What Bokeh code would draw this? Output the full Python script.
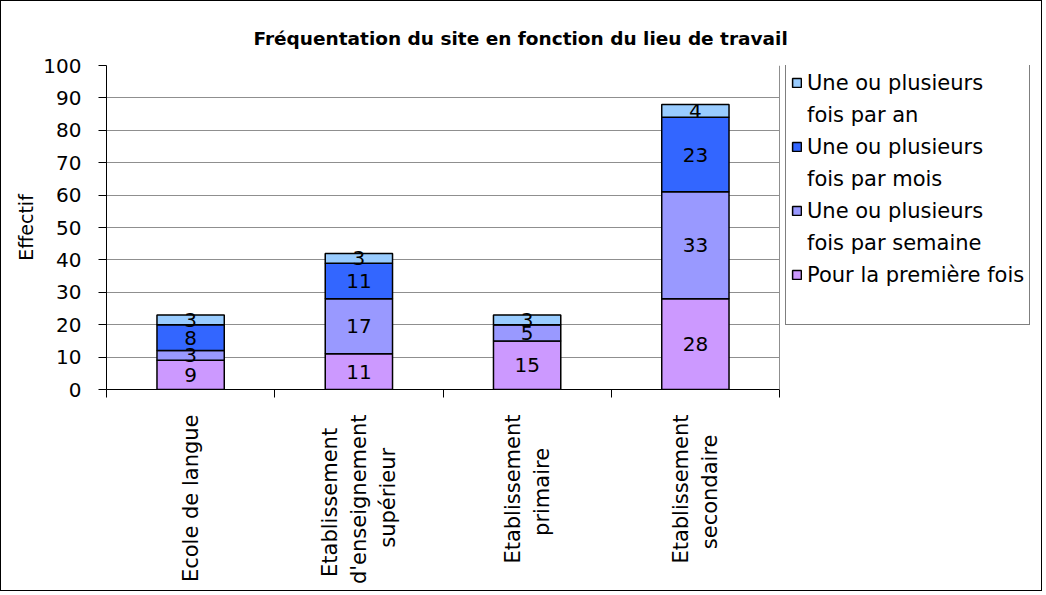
import math
from bokeh.plotting import figure
from bokeh.models import Range1d, FixedTicker, Legend, LegendItem, ColumnDataSource, Span
from bokeh.embed import file_html
from bokeh.resources import INLINE
from bokeh.core.properties import value

# ---- data ----
categories = ["Ecole de langue",
              "Etablissement\nd'enseignement\nsupérieur",
              "Etablissement\nprimaire",
              "Etablissement\nsecondaire"]
premiere = [9, 11, 15, 28]
semaine = [3, 17, 5, 33]
mois = [8, 11, 0, 23]
an = [3, 3, 3, 4]
series_keys = ["premiere", "semaine", "mois", "an"]
series_labels = [["Pour la première fois"],
                 ["Une ou plusieurs", "fois par semaine"],
                 ["Une ou plusieurs", "fois par mois"],
                 ["Une ou plusieurs", "fois par an"]]
colors = ["#CC99FF", "#9999FF", "#3366FF", "#99CCFF"]
y_ticks = list(range(0, 101, 10))
title = "Fréquentation du site en fonction du lieu de travail"
y_label = "Effectif"

FONT = "DejaVu Sans"
NBSP = "\u00a0"
# trailing non-breaking spaces centre the shorter lines of the rotated labels
pad = {"Etablissement\nd'enseignement\nsupérieur": [2, 0, 5],
       "Etablissement\nprimaire": [0, 5],
       "Etablissement\nsecondaire": [0, 3]}


def centred(label):
    lines = label.split("\n")
    n = pad.get(label, [0] * len(lines))
    return "\n".join(l + NBSP * k for l, k in zip(lines, n))


n_cat = len(categories)
xs = [i + 0.5 for i in range(n_cat)]
data = dict(x=xs, premiere=premiere, semaine=semaine, mois=mois, an=an)
source = ColumnDataSource(data)

# layout geometry (pixels, canvas coordinates; canvas sits 1px inside a border)
W, H = 1042, 591
LEFT, TOP, BOTTOM = 105, 64, 388
AREA_RIGHT = 778          # right edge of the bar area
FRAME_RIGHT = W           # frame extends under the legend
x_end = n_cat * (FRAME_RIGHT - LEFT) / (AREA_RIGHT - LEFT)

p = figure(width=W, height=H, output_backend="svg", toolbar_location=None,
           x_range=Range1d(0, x_end), y_range=Range1d(0, 100),
           min_border_left=LEFT, min_border_right=W - FRAME_RIGHT, min_border_top=TOP,
           min_border_bottom=H - BOTTOM)
p.styles = {"border": "1px solid #000000"}

p.title.text = title
p.title.text_font = FONT
p.title.text_font_size = "18.5px"
p.title.text_font_style = "bold"
p.title.text_color = "black"
p.title.align = "left"
p.title.offset = 147
p.title.standoff = 33

renderers = p.vbar_stack(series_keys, x="x", width=0.4, source=source,
                         fill_color=colors, line_color="black", line_width=1.5)

# data labels
for i, key in enumerate(series_keys):
    vals = data[key]
    lx, ly, lt = [], [], []
    for j, v in enumerate(vals):
        if v == 0:
            continue
        bottom = sum(data[k][j] for k in series_keys[:i])
        lx.append(xs[j])
        ly.append(bottom + v / 2)
        lt.append(str(v))
    p.text(x=lx, y=ly, text=lt, text_align="center", text_baseline="middle",
           text_font=value(FONT), text_font_size="20px", text_color="black")

# axes
p.yaxis.ticker = FixedTicker(ticks=y_ticks)
p.yaxis.axis_label = y_label
p.yaxis.axis_label_text_font = FONT
p.yaxis.axis_label_text_font_size = "19px"
p.yaxis.axis_label_text_font_style = "normal"
p.yaxis.axis_label_text_color = "black"
p.yaxis.axis_label_standoff = 3
p.yaxis.major_label_text_font = FONT
p.yaxis.major_label_text_font_size = "20px"
p.yaxis.major_label_text_color = "black"
p.yaxis.major_tick_in = 0
p.yaxis.major_tick_out = 8
p.yaxis.minor_tick_out = 0
p.yaxis.minor_tick_in = 0
p.yaxis.major_label_standoff = 17
p.yaxis.axis_line_color = "black"
p.yaxis.major_tick_line_color = "black"

p.xaxis.ticker = FixedTicker(ticks=xs, minor_ticks=list(range(n_cat + 1)))
p.xaxis.bounds = (0, n_cat)
p.xaxis.major_label_overrides = {x: centred(c) for x, c in zip(xs, categories)}
p.xaxis.major_label_orientation = math.pi / 2
p.xaxis.major_label_text_font = FONT
p.xaxis.major_label_text_font_size = "21px"
p.xaxis.major_label_text_color = "black"
p.xaxis.major_tick_in = 0
p.xaxis.major_tick_out = 0
p.xaxis.minor_tick_in = 0
p.xaxis.minor_tick_out = 8
p.xaxis.minor_tick_line_color = "black"
p.xaxis.major_label_standoff = 17
p.xaxis.axis_line_color = "black"

p.xgrid.grid_line_color = None
p.ygrid.grid_line_color = "#8f8f8f"
p.ygrid.cross_bounds = (0, n_cat)
p.outline_line_color = None
p.add_layout(Span(location=n_cat, dimension="height", line_color="#8f8f8f", line_width=1))

# legend: one row per text line, swatch on the first line of each series
items = []
for i in reversed(range(4)):
    lines = series_labels[i]
    items.append(LegendItem(label=lines[0], renderers=[renderers[i]]))
    for extra in lines[1:]:
        dummy = p.vbar(x=[], top=[], width=0.4, fill_alpha=0, line_alpha=0)
        items.append(LegendItem(label=extra, renderers=[dummy]))
blank = p.vbar(x=[], top=[], width=0.4, fill_alpha=0, line_alpha=0)
items.append(LegendItem(label=" ", renderers=[blank]))

legend = Legend(items=items, location=(784 - LEFT, BOTTOM - 324), margin=0)
legend.label_text_font = FONT
legend.label_text_font_size = "21px"
legend.label_text_color = "black"
legend.label_height = 25
legend.glyph_width = 11
legend.glyph_height = 11
legend.label_standoff = 5
legend.padding = 5
legend.spacing = 7
legend.border_line_color = "black"
legend.border_line_width = 1
legend.background_fill_color = "white"
legend.background_fill_alpha = 1
p.add_layout(legend, "center")

open("out.html", "w").write(file_html(p, INLINE))
